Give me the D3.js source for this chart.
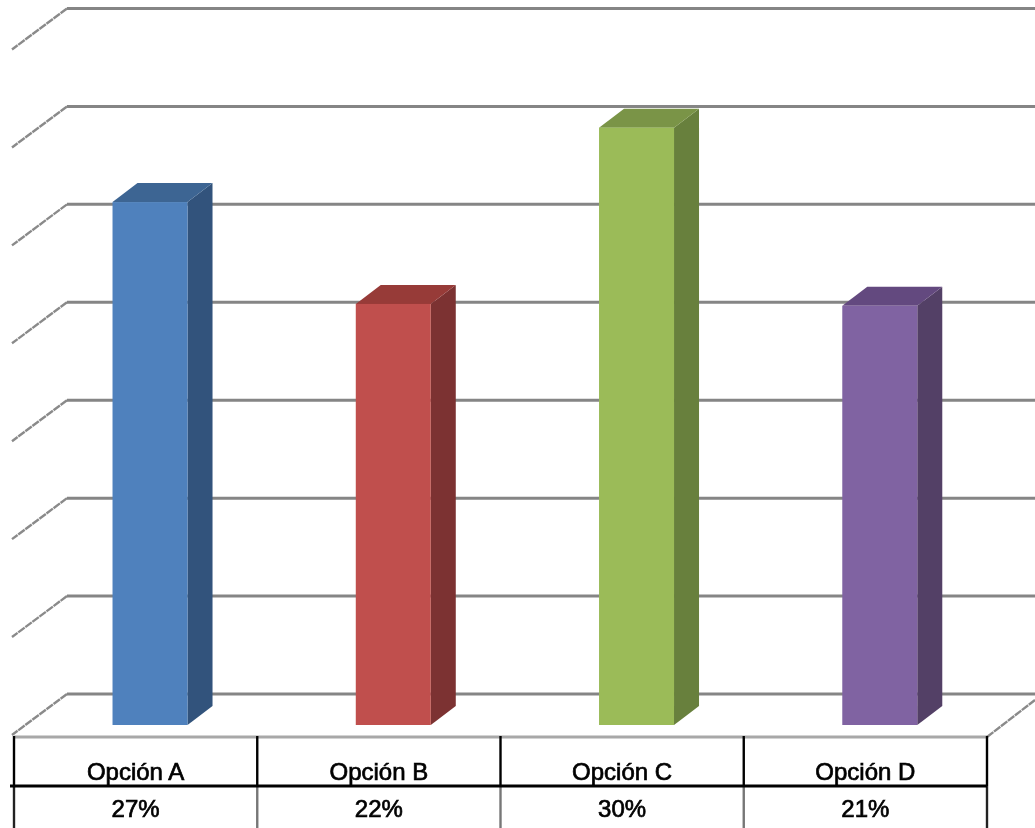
<!DOCTYPE html>
<html>
<head>
<meta charset="utf-8">
<script src="https://cdn.jsdelivr.net/npm/d3@7"></script>
<style>
html, body { margin: 0; padding: 0; background: #fff; overflow: hidden; }
svg { display: block; }
text { font-family: "Liberation Sans", sans-serif; fill: #000; text-anchor: middle; stroke: #000; stroke-width: 0.7px; }
</style>
</head>
<body>
<svg id="s" width="1035" height="828"></svg>
<script>
var categories = ["Opción A", "Opción B", "Opción C", "Opción D"];
// heights (the table below shows them rounded)
var barValues = [26.7, 21.5, 30.5, 21.4];
var tableLabels = ["27%", "22%", "30%", "21%"];
var axisTicks = [0, 5, 10, 15, 20, 25, 30, 35];
var frontColors = ["#4f81bd", "#c0504d", "#9bbb59", "#8064a2"];
var sideColors = ["#31537b", "#7b3231", "#68803c", "#533f66"];
var topColors = ["#3d6593", "#973a38", "#7a9446", "#64497f"];

var width = 1035;
var depthX = 25, depthY = 19;      // bar depth
var floorX = 55, floorY = 41;      // floor depth
var frontDrop = 31;                // bar base sits this far below the back wall zero

var svg = d3.select("#s");
var defs = svg.append("defs");
defs.append("filter").attr("id", "soft")
    .attr("filterUnits", "userSpaceOnUse")
    .attr("x", 0).attr("y", 0).attr("width", 1035).attr("height", 828)
    .append("feGaussianBlur").attr("stdDeviation", 0.6);

var x = d3.scaleBand().domain(categories).range([14, 987]);
var y = d3.scaleLinear().domain([0, 35]).range([694, 8.5]);
var barWidth = 75;
var barLeft = function (c) { return x(c) + x.bandwidth() / 2 + 14.4 - barWidth / 2; };

var chart = svg.append("g").attr("filter", "url(#soft)");

// back wall lines and the slanted lines on the side wall
var grid = chart.append("g");
grid.selectAll("line.back").data(axisTicks).enter().append("line")
    .attr("class", "back")
    .attr("x1", 67).attr("x2", width)
    .attr("y1", function (d) { return y(d); })
    .attr("y2", function (d) { return y(d); })
    .attr("stroke", "#858585").attr("stroke-width", 3);
grid.selectAll("line.side").data(axisTicks).enter().append("line")
    .attr("class", "side")
    .attr("x1", 67).attr("x2", 67 - floorX)
    .attr("y1", function (d) { return y(d); })
    .attr("y2", function (d) { return y(d) + floorY; })
    .attr("stroke", "#8a8a8a").attr("stroke-width", 2.4)
    .attr("stroke-dasharray", "8 0.8");
grid.append("line")
    .attr("x1", 987).attr("y1", y(0) + floorY + 2)
    .attr("x2", 1035).attr("y2", y(0) + floorY - 35)
    .attr("stroke", "#8a8a8a").attr("stroke-width", 2.4)
    .attr("stroke-dasharray", "8 0.8");

// bars
var bars = chart.selectAll("g.bar").data(categories).enter().append("g").attr("class", "bar");
var line = d3.line();
var barTop = function (i) { return y(barValues[i]) + frontDrop; };
var barBase = y(0) + frontDrop;

bars.append("path")
    .attr("fill", function (d, i) { return sideColors[i]; })
    .attr("d", function (d, i) {
        var r = barLeft(d) + barWidth;
        return line([[r, barTop(i)], [r + depthX, barTop(i) - depthY], [r + depthX, barBase - depthY], [r, barBase]]) + "Z";
    });
bars.append("path")
    .attr("fill", function (d, i) { return topColors[i]; })
    .attr("d", function (d, i) {
        var l = barLeft(d);
        return line([[l, barTop(i)], [l + depthX, barTop(i) - depthY], [l + barWidth + depthX, barTop(i) - depthY], [l + barWidth, barTop(i)]]) + "Z";
    });
bars.append("rect")
    .attr("x", function (d) { return barLeft(d); })
    .attr("y", function (d, i) { return barTop(i); })
    .attr("width", barWidth)
    .attr("height", function (d, i) { return barBase - barTop(i); })
    .attr("fill", function (d, i) { return frontColors[i]; });

// data table under the chart
var table = chart.append("g");
var tableTop = 737, tableMid = 786, tableEnd = 828;
var edges = x.domain().map(function (c) { return x(c); }).concat([x.range()[1]]);

table.append("line")
    .attr("x1", 14).attr("x2", 987).attr("y1", tableTop).attr("y2", tableTop)
    .attr("stroke", "#a8a8a8").attr("stroke-width", 3);
table.selectAll("line.upper").data(edges).enter().append("line")
    .attr("class", "upper")
    .attr("x1", function (d) { return d; }).attr("x2", function (d) { return d; })
    .attr("y1", tableTop - 1).attr("y2", tableMid)
    .attr("stroke", "#000").attr("stroke-width", 2.4);
table.selectAll("line.lower").data(edges).enter().append("line")
    .attr("class", "lower")
    .attr("x1", function (d) { return d; }).attr("x2", function (d) { return d; })
    .attr("y1", tableMid).attr("y2", tableEnd)
    .attr("stroke", function (d, i) { return (i == 4 || i == 0) ? "#222" : "#777"; })
    .attr("stroke-width", 2.4);
table.append("line")
    .attr("x1", 10).attr("x2", 987).attr("y1", tableMid).attr("y2", tableMid)
    .attr("stroke", "#000").attr("stroke-width", 3);

table.selectAll("text.cat").data(categories).enter().append("text")
    .attr("class", "cat")
    .attr("x", function (d) { return x(d) + x.bandwidth() / 2; })
    .attr("y", 780)
    .attr("font-size", 24)
    .text(function (d) { return d; });
table.selectAll("text.val").data(tableLabels).enter().append("text")
    .attr("class", "val")
    .attr("x", function (d, i) { return x(categories[i]) + x.bandwidth() / 2; })
    .attr("y", 817)
    .attr("font-size", 24)
    .text(function (d) { return d; });
</script>
</body>
</html>
